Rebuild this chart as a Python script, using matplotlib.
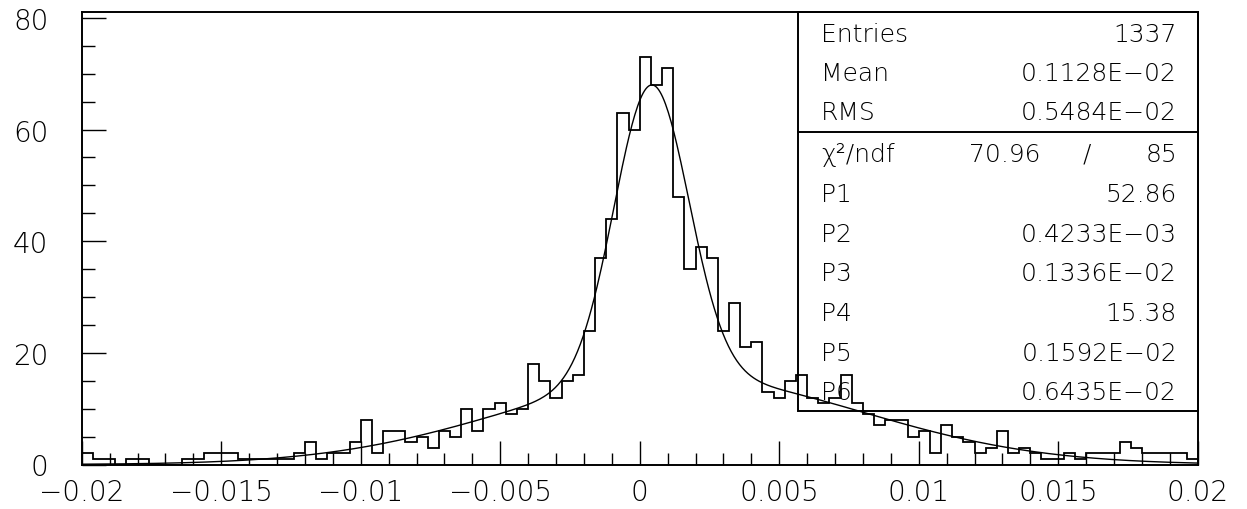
import matplotlib
matplotlib.use('Agg')
import matplotlib.pyplot as plt
from matplotlib.patches import Rectangle
from matplotlib.lines import Line2D
from matplotlib.ticker import MultipleLocator, FuncFormatter
import numpy as np

# histogram: 100 bins from -0.02 to 0.02
x_min, x_max, n_bins = -0.02, 0.02, 100
counts = [
    2, 1, 1, 0, 1, 1, 0, 0, 0, 1,
    1, 2, 2, 2, 1, 1, 1, 1, 1, 2,
    4, 1, 2, 2, 4, 8, 2, 6, 6, 4,
    5, 3, 6, 5, 10, 6, 10, 11, 9, 10,
    18, 15, 12, 15, 16, 24, 37, 44, 63, 60,
    73, 68, 71, 48, 35, 39, 37, 24, 29, 21,
    22, 13, 12, 15, 16, 12, 11, 12, 16, 11,
    9, 7, 8, 8, 5, 6, 2, 7, 5, 4,
    2, 3, 6, 2, 3, 2, 1, 1, 2, 1,
    2, 2, 2, 4, 3, 2, 2, 2, 2, 1,
]

# fit parameters (double gaussian) as printed in the stat box
fit_params = [52.86, 0.4233e-03, 0.1336e-02, 15.38, 0.1592e-02, 0.6435e-02]

stat_labels = ['Entries', 'Mean', 'RMS']
stat_values = ['1337', '0.1128E\u221202', '0.5484E\u221202']
chi2_value, ndf_value = '70.96', '85'
par_labels = ['P1', 'P2', 'P3', 'P4', 'P5', 'P6']
par_values = ['52.86', '0.4233E\u221203', '0.1336E\u221202', '15.38',
              '0.1592E\u221202', '0.6435E\u221202']

W, H = 1247, 510
plt.rcParams['font.family'] = ['DejaVu Sans']
fig = plt.figure(figsize=(W / 100, H / 100), dpi=100)
ax = fig.add_axes([81.7 / W, 1 - 465.5 / H, (1197.7 - 81.7) / W, (465.5 - 13.3) / H])

edges = np.linspace(x_min, x_max, n_bins + 1)
ax.stairs(counts, edges, color='black', linewidth=1.3, baseline=0)

p1, p2, p3, p4, p5, p6 = fit_params
xs = np.linspace(x_min, x_max, 800)
ys = p1 * np.exp(-0.5 * ((xs - p2) / p3) ** 2) + p4 * np.exp(-0.5 * ((xs - p5) / p6) ** 2)
ax.plot(xs, ys, color='black', linewidth=1.0)

ax.set_xlim(x_min, x_max)
ax.set_ylim(0, 81)


def fmt(v, pos):
    v = round(v, 4)
    if v == 0:
        return '0'
    return ('%g' % v).replace('-', '\u2212')


ax.xaxis.set_major_locator(MultipleLocator(0.005))
ax.xaxis.set_minor_locator(MultipleLocator(0.001))
ax.xaxis.set_major_formatter(FuncFormatter(fmt))
ax.yaxis.set_major_locator(MultipleLocator(20))
ax.yaxis.set_minor_locator(MultipleLocator(5))
ax.yaxis.set_major_formatter(FuncFormatter(lambda v, p: '%d' % round(v)))

ax.tick_params(which='both', direction='in', top=False, right=False, width=1.0)
ax.tick_params(which='major', length=17)
ax.tick_params(which='minor', length=9)
ax.tick_params(axis='x', which='major', labelsize=20, pad=10)
ax.tick_params(axis='y', which='major', labelsize=20, pad=24)
for lab in ax.get_xticklabels() + ax.get_yticklabels():
    lab.set_fontweight('light')
for s in ax.spines.values():
    s.set_linewidth(1.4)


def fx(px):
    return px / W


def fy(py):
    return 1 - py / H


# stat box
fig.add_artist(Rectangle((fx(798), fy(412)), fx(1197.7) - fx(798), fy(13.3) - fy(412),
                         transform=fig.transFigure, fill=False, linewidth=1.4, edgecolor='black'))
fig.add_artist(Line2D([fx(798), fx(1197.7)], [fy(133.3), fy(133.3)],
                      transform=fig.transFigure, color='black', linewidth=1.4))

row_y = [35, 74, 113, 155, 195, 235, 274, 314, 354, 393]
tkw = dict(fontsize=18, fontweight='light', va='center')
for i, (lab, val) in enumerate(zip(stat_labels, stat_values)):
    fig.text(fx(821), fy(row_y[i]), lab, ha='left', **tkw)
    fig.text(fx(1177), fy(row_y[i]), val, ha='right', **tkw)

fig.text(fx(821), fy(row_y[3]), '\u03c7\u00b2/ndf', ha='left', **tkw)
fig.text(fx(1040), fy(row_y[3]), chi2_value, ha='right', **tkw)
fig.text(fx(1087), fy(row_y[3]), '/', ha='center', **tkw)
fig.text(fx(1177), fy(row_y[3]), ndf_value, ha='right', **tkw)

for i, (lab, val) in enumerate(zip(par_labels, par_values)):
    fig.text(fx(821), fy(row_y[4 + i]), lab, ha='left', **tkw)
    fig.text(fx(1177), fy(row_y[4 + i]), val, ha='right', **tkw)

plt.savefig('out.png', dpi=100)
